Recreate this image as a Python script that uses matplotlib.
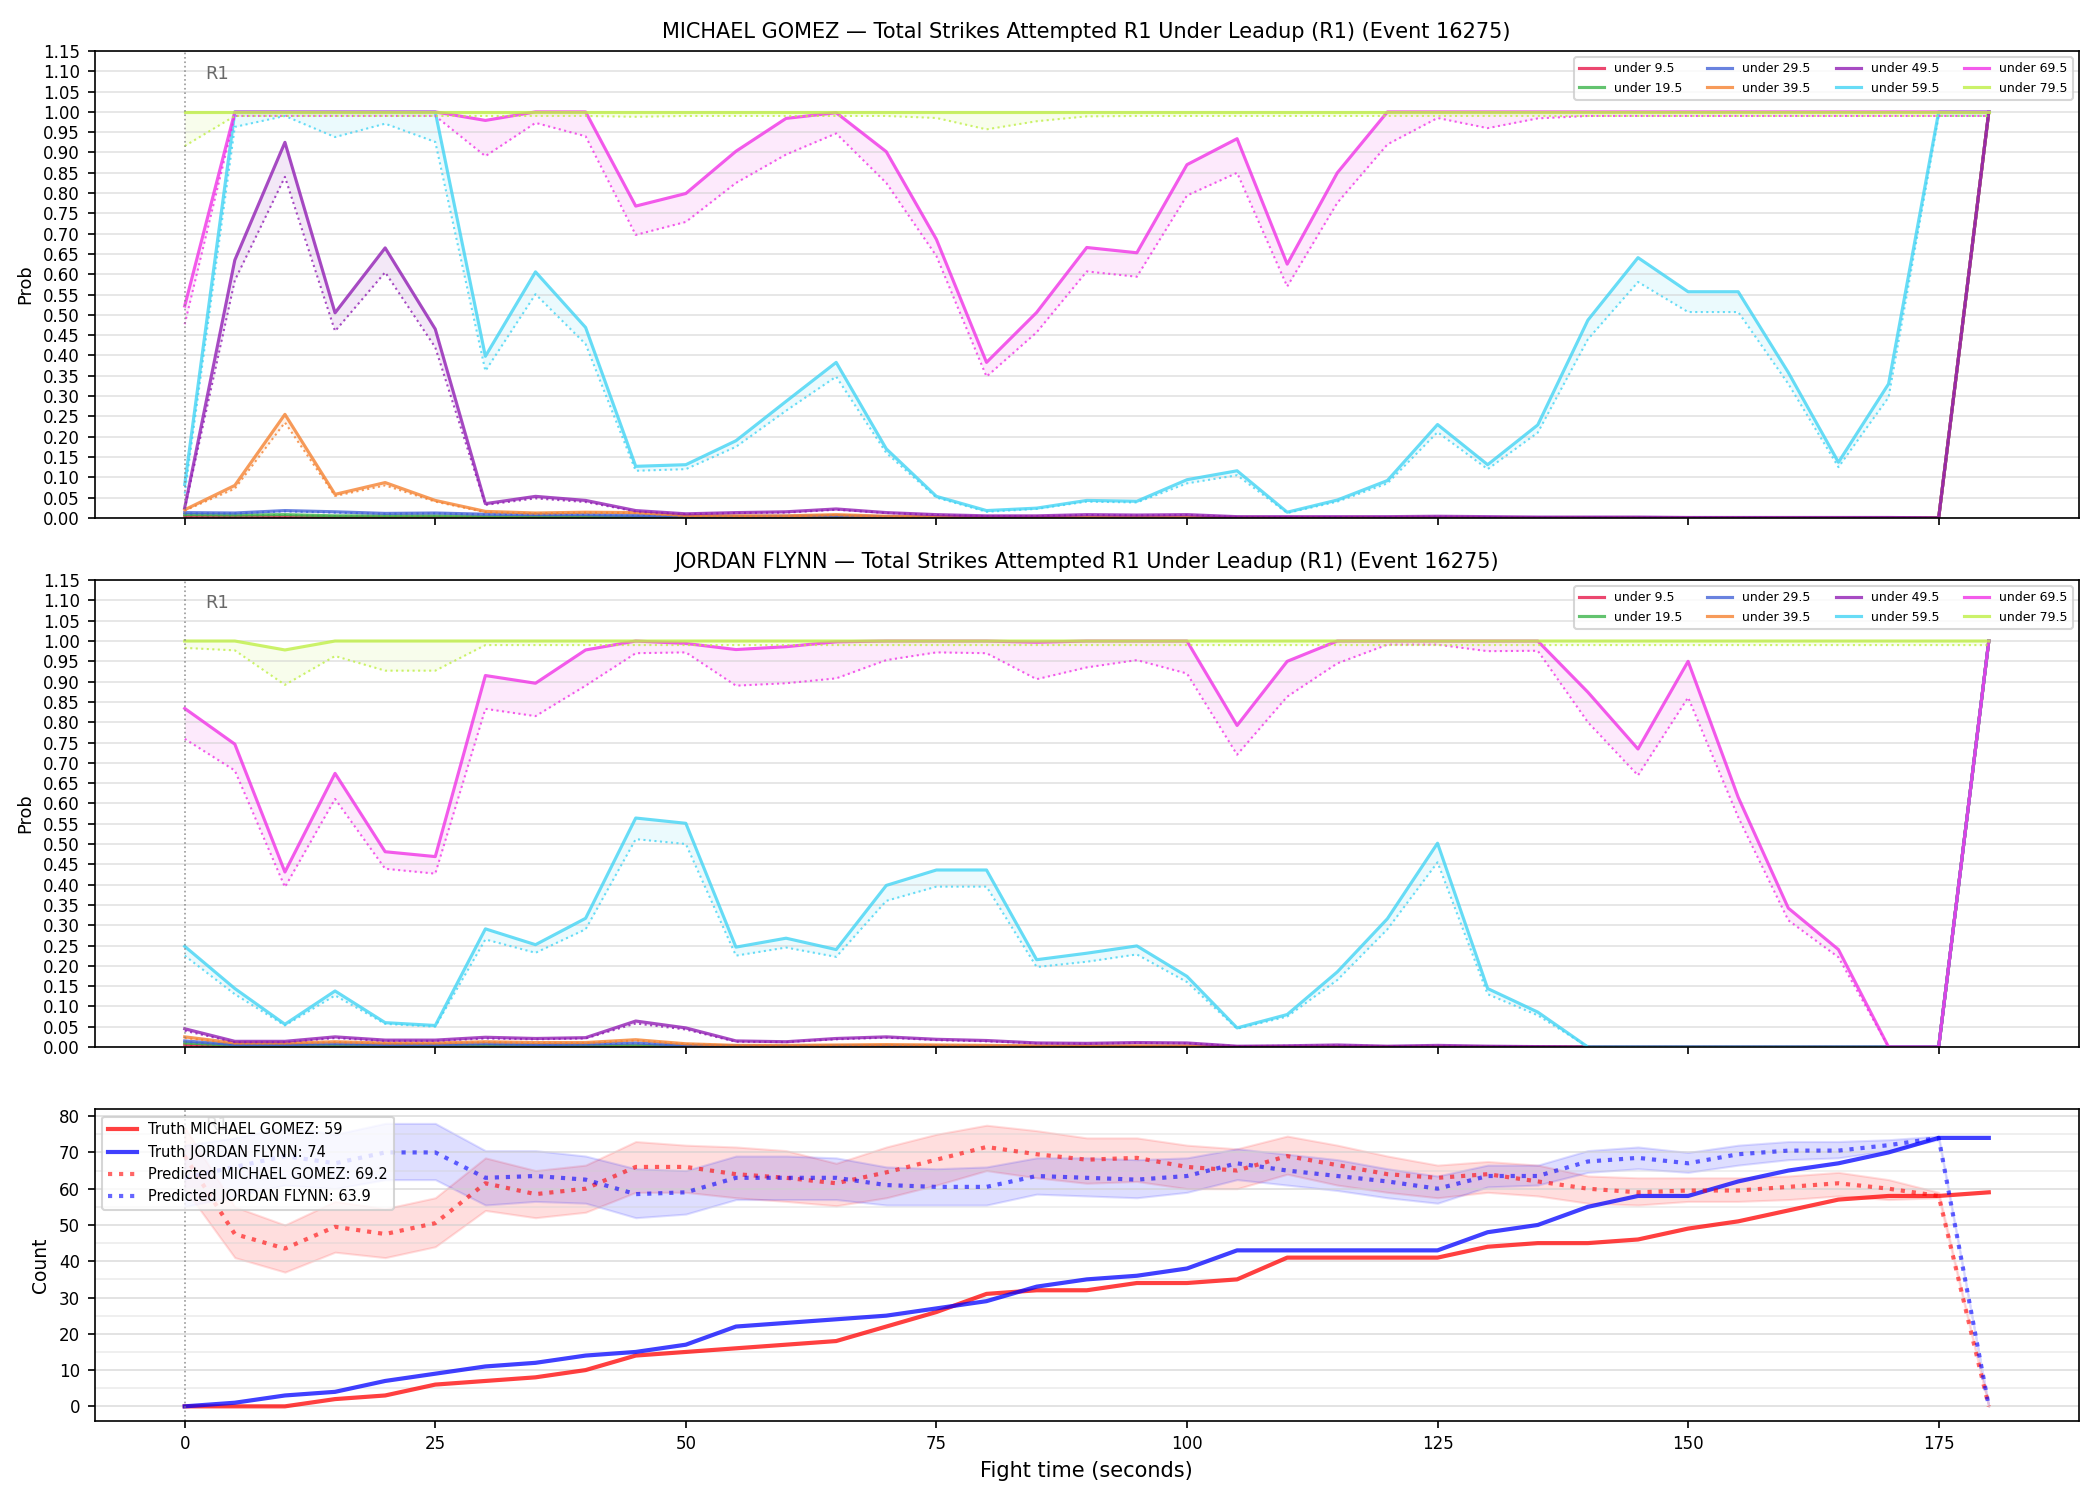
import matplotlib
matplotlib.use("Agg")
import matplotlib.pyplot as plt
import matplotlib.transforms as mtransforms
from matplotlib.ticker import MultipleLocator

# ---- data -------------------------------------------------------------
event_id = 16275
fighter_a = "MICHAEL GOMEZ"
fighter_b = "JORDAN FLYNN"

times = [0, 5, 10, 15, 20, 25, 30, 35, 40, 45, 50, 55, 60, 65, 70, 75, 80, 85, 90,
         95, 100, 105, 110, 115, 120, 125, 130, 135, 140, 145, 150, 155, 160, 165,
         170, 175, 180]

lines_labels = ["under 9.5", "under 19.5", "under 29.5", "under 39.5",
                "under 49.5", "under 59.5", "under 69.5", "under 79.5"]
line_colors = ["#e6194b", "#3cb44b", "#4363d8", "#f58231",
               "#911eb4", "#42d4f4", "#f032e6", "#bfef45"]

# MICHAEL GOMEZ: solid = live prob, _lo = dotted lower curve
gomez_u9 = [0.004, 0.003, 0.003, 0.002, 0.002, 0.002, 0.001, 0.001, 0.001, 0.001, 0.001, 0.001, 0.001,
            0.001, 0.001, 0.0, 0.0, 0.0, 0.0, 0.0, 0.0, 0.0, 0.0, 0.0, 0.0, 0.0, 0.0, 0.0, 0.0, 0.0,
            0.0, 0.0, 0.0, 0.0, 0.0, 0.0, 1.0]
gomez_u9_lo = [0.003, 0.002, 0.002, 0.001, 0.001, 0.001, 0.001, 0.0, 0.0, 0.0, 0.0, 0.0, 0.0,
               0.0, 0.0, 0.0, 0.0, 0.0, 0.0, 0.0, 0.0, 0.0, 0.0, 0.0, 0.0, 0.0, 0.0, 0.0, 0.0, 0.0,
               0.0, 0.0, 0.0, 0.0, 0.0, 0.0, 1.0]
gomez_u19 = [0.008, 0.007, 0.008, 0.005, 0.005, 0.005, 0.003, 0.003, 0.003, 0.002, 0.002, 0.002, 0.002,
             0.002, 0.001, 0.001, 0.001, 0.0, 0.0, 0.0, 0.0, 0.0, 0.0, 0.0, 0.0, 0.0, 0.0, 0.0, 0.0, 0.0,
             0.0, 0.0, 0.0, 0.0, 0.0, 0.0, 1.0]
gomez_u19_lo = [0.007, 0.006, 0.007, 0.004, 0.004, 0.004, 0.002, 0.002, 0.002, 0.002, 0.001, 0.001, 0.001,
                0.001, 0.001, 0.0, 0.0, 0.0, 0.0, 0.0, 0.0, 0.0, 0.0, 0.0, 0.0, 0.0, 0.0, 0.0, 0.0, 0.0,
                0.0, 0.0, 0.0, 0.0, 0.0, 0.0, 1.0]
gomez_u29 = [0.013, 0.012, 0.018, 0.015, 0.011, 0.012, 0.009, 0.008, 0.008, 0.006, 0.004, 0.004, 0.004,
             0.005, 0.003, 0.002, 0.002, 0.001, 0.001, 0.001, 0.001, 0.001, 0.0, 0.0, 0.0, 0.0, 0.0, 0.0,
             0.0, 0.0, 0.0, 0.0, 0.0, 0.0, 0.0, 0.0, 1.0]
gomez_u29_lo = [0.011, 0.011, 0.016, 0.013, 0.01, 0.011, 0.008, 0.007, 0.007, 0.005, 0.003, 0.003, 0.003,
                0.004, 0.002, 0.002, 0.001, 0.001, 0.001, 0.001, 0.001, 0.0, 0.0, 0.0, 0.0, 0.0, 0.0, 0.0,
                0.0, 0.0, 0.0, 0.0, 0.0, 0.0, 0.0, 0.0, 1.0]
gomez_u39 = [0.02, 0.08, 0.255, 0.058, 0.087, 0.043, 0.016, 0.012, 0.014, 0.013, 0.006, 0.005, 0.005,
             0.008, 0.004, 0.003, 0.002, 0.002, 0.002, 0.002, 0.002, 0.001, 0.001, 0.001, 0.001, 0.001,
             0.0, 0.0, 0.0, 0.0, 0.0, 0.0, 0.0, 0.0, 0.0, 0.0, 1.0]
gomez_u39_lo = [0.018, 0.072, 0.235, 0.054, 0.08, 0.04, 0.014, 0.011, 0.013, 0.012, 0.005, 0.004, 0.004,
                0.007, 0.003, 0.002, 0.002, 0.002, 0.001, 0.001, 0.001, 0.001, 0.001, 0.0, 0.0, 0.0,
                0.0, 0.0, 0.0, 0.0, 0.0, 0.0, 0.0, 0.0, 0.0, 0.0, 1.0]
gomez_u49 = [0.025, 0.635, 0.925, 0.505, 0.665, 0.465, 0.035, 0.053, 0.043, 0.018, 0.01, 0.013, 0.015,
             0.022, 0.013, 0.008, 0.005, 0.005, 0.008, 0.007, 0.008, 0.003, 0.003, 0.003, 0.003, 0.004,
             0.003, 0.002, 0.002, 0.002, 0.001, 0.001, 0.001, 0.001, 0.001, 0.0, 1.0]
gomez_u49_lo = [0.022, 0.585, 0.84, 0.46, 0.605, 0.42, 0.032, 0.048, 0.039, 0.016, 0.009, 0.012, 0.013,
                0.02, 0.012, 0.007, 0.004, 0.004, 0.007, 0.006, 0.007, 0.002, 0.002, 0.002, 0.002, 0.003,
                0.002, 0.001, 0.001, 0.001, 0.001, 0.001, 0.0, 0.0, 0.0, 0.0, 1.0]
gomez_u59 = [0.082, 1.0, 1.0, 1.0, 1.0, 1.0, 0.398, 0.606, 0.469, 0.127, 0.131, 0.19, 0.287, 0.383,
             0.17, 0.053, 0.018, 0.024, 0.043, 0.041, 0.094, 0.116, 0.014, 0.044, 0.092, 0.23, 0.131,
             0.229, 0.487, 0.641, 0.557, 0.557, 0.358, 0.137, 0.33, 1.0, 1.0]
gomez_u59_lo = [0.06, 0.963, 0.99, 0.938, 0.971, 0.926, 0.362, 0.551, 0.428, 0.116, 0.12, 0.175, 0.264,
                0.348, 0.16, 0.05, 0.015, 0.022, 0.04, 0.038, 0.085, 0.105, 0.012, 0.04, 0.085, 0.211,
                0.12, 0.21, 0.44, 0.581, 0.507, 0.507, 0.33, 0.125, 0.297, 0.99, 0.99]
gomez_u69 = [0.522, 1.0, 1.0, 1.0, 1.0, 1.0, 0.979, 1.0, 1.0, 0.768, 0.799, 0.903, 0.984, 0.998, 0.902,
             0.686, 0.383, 0.506, 0.666, 0.653, 0.87, 0.934, 0.625, 0.85, 1.0, 1.0, 1.0, 1.0, 1.0, 1.0,
             1.0, 1.0, 1.0, 1.0, 1.0, 1.0, 1.0]
gomez_u69_lo = [0.477, 0.99, 0.99, 0.99, 0.99, 0.99, 0.891, 0.973, 0.94, 0.697, 0.729, 0.825, 0.895,
                0.947, 0.825, 0.645, 0.348, 0.457, 0.607, 0.594, 0.794, 0.85, 0.57, 0.776, 0.92, 0.985,
                0.96, 0.984, 0.99, 0.99, 0.99, 0.99, 0.99, 0.99, 0.99, 0.99, 0.99]
gomez_u79 = [1.0, 1.0, 1.0, 1.0, 1.0, 1.0, 1.0, 1.0, 1.0, 1.0, 1.0, 1.0, 1.0, 1.0, 1.0, 1.0, 1.0, 1.0,
             1.0, 1.0, 1.0, 1.0, 1.0, 1.0, 1.0, 1.0, 1.0, 1.0, 1.0, 1.0, 1.0, 1.0, 1.0, 1.0, 1.0, 1.0, 1.0]
gomez_u79_lo = [0.916, 0.99, 0.99, 0.99, 0.99, 0.99, 0.99, 0.99, 0.99, 0.988, 0.99, 0.99, 0.99, 0.99,
                0.99, 0.985, 0.957, 0.977, 0.989, 0.99, 0.99, 0.99, 0.99, 0.99, 0.99, 0.99, 0.99, 0.99,
                0.99, 0.99, 0.99, 0.99, 0.99, 0.99, 0.99, 0.99, 0.99]

# JORDAN FLYNN
flynn_u9 = [0.005, 0.002, 0.002, 0.002, 0.002, 0.002, 0.002, 0.002, 0.002, 0.002, 0.001, 0.001, 0.001,
            0.001, 0.001, 0.001, 0.0, 0.0, 0.0, 0.0, 0.0, 0.0, 0.0, 0.0, 0.0, 0.0, 0.0, 0.0, 0.0, 0.0,
            0.0, 0.0, 0.0, 0.0, 0.0, 0.0, 1.0]
flynn_u9_lo = [0.004, 0.002, 0.001, 0.001, 0.001, 0.001, 0.001, 0.001, 0.001, 0.001, 0.001, 0.0, 0.0,
               0.0, 0.0, 0.0, 0.0, 0.0, 0.0, 0.0, 0.0, 0.0, 0.0, 0.0, 0.0, 0.0, 0.0, 0.0, 0.0, 0.0,
               0.0, 0.0, 0.0, 0.0, 0.0, 0.0, 1.0]
flynn_u19 = [0.01, 0.004, 0.004, 0.004, 0.003, 0.003, 0.004, 0.003, 0.003, 0.004, 0.002, 0.001, 0.001,
             0.001, 0.001, 0.001, 0.001, 0.0, 0.0, 0.0, 0.0, 0.0, 0.0, 0.0, 0.0, 0.0, 0.0, 0.0, 0.0, 0.0,
             0.0, 0.0, 0.0, 0.0, 0.0, 0.0, 1.0]
flynn_u19_lo = [0.009, 0.003, 0.003, 0.003, 0.003, 0.003, 0.003, 0.003, 0.003, 0.003, 0.002, 0.001, 0.001,
                0.001, 0.001, 0.001, 0.0, 0.0, 0.0, 0.0, 0.0, 0.0, 0.0, 0.0, 0.0, 0.0, 0.0, 0.0, 0.0, 0.0,
                0.0, 0.0, 0.0, 0.0, 0.0, 0.0, 1.0]
flynn_u29 = [0.015, 0.006, 0.006, 0.008, 0.006, 0.006, 0.008, 0.006, 0.007, 0.01, 0.004, 0.003, 0.002,
             0.003, 0.003, 0.002, 0.002, 0.001, 0.001, 0.001, 0.001, 0.0, 0.0, 0.0, 0.0, 0.0, 0.0, 0.0,
             0.0, 0.0, 0.0, 0.0, 0.0, 0.0, 0.0, 0.0, 1.0]
flynn_u29_lo = [0.013, 0.005, 0.005, 0.007, 0.005, 0.005, 0.007, 0.005, 0.006, 0.009, 0.003, 0.002, 0.002,
                0.002, 0.002, 0.002, 0.001, 0.001, 0.001, 0.001, 0.001, 0.0, 0.0, 0.0, 0.0, 0.0, 0.0, 0.0,
                0.0, 0.0, 0.0, 0.0, 0.0, 0.0, 0.0, 0.0, 1.0]
flynn_u39 = [0.025, 0.01, 0.01, 0.013, 0.01, 0.01, 0.013, 0.011, 0.011, 0.018, 0.008, 0.004, 0.004,
             0.005, 0.006, 0.005, 0.004, 0.003, 0.003, 0.003, 0.003, 0.001, 0.001, 0.001, 0.001, 0.001,
             0.0, 0.0, 0.0, 0.0, 0.0, 0.0, 0.0, 0.0, 0.0, 0.0, 1.0]
flynn_u39_lo = [0.022, 0.009, 0.009, 0.012, 0.009, 0.009, 0.012, 0.01, 0.01, 0.016, 0.007, 0.004, 0.003,
                0.004, 0.005, 0.004, 0.003, 0.003, 0.002, 0.002, 0.002, 0.001, 0.001, 0.001, 0.001, 0.0,
                0.0, 0.0, 0.0, 0.0, 0.0, 0.0, 0.0, 0.0, 0.0, 0.0, 1.0]
flynn_u49 = [0.045, 0.014, 0.014, 0.025, 0.017, 0.017, 0.024, 0.021, 0.023, 0.064, 0.047, 0.015, 0.013,
             0.021, 0.025, 0.019, 0.016, 0.01, 0.009, 0.011, 0.01, 0.002, 0.003, 0.005, 0.002, 0.004,
             0.002, 0.001, 0.0, 0.0, 0.0, 0.0, 0.0, 0.0, 0.0, 0.0, 1.0]
flynn_u49_lo = [0.04, 0.012, 0.012, 0.022, 0.015, 0.015, 0.021, 0.019, 0.021, 0.058, 0.043, 0.013, 0.012,
                0.019, 0.023, 0.017, 0.014, 0.009, 0.008, 0.01, 0.009, 0.002, 0.003, 0.004, 0.002, 0.003,
                0.002, 0.001, 0.0, 0.0, 0.0, 0.0, 0.0, 0.0, 0.0, 0.0, 1.0]
flynn_u59 = [0.248, 0.144, 0.056, 0.138, 0.06, 0.053, 0.291, 0.252, 0.317, 0.564, 0.551, 0.246, 0.268,
             0.24, 0.398, 0.436, 0.436, 0.215, 0.231, 0.249, 0.174, 0.047, 0.08, 0.185, 0.316, 0.502,
             0.144, 0.086, 0.0, 0.0, 0.0, 0.0, 0.0, 0.0, 0.0, 0.0, 1.0]
flynn_u59_lo = [0.225, 0.13, 0.053, 0.127, 0.057, 0.05, 0.265, 0.232, 0.29, 0.512, 0.5, 0.225, 0.245,
                0.222, 0.36, 0.395, 0.395, 0.197, 0.21, 0.228, 0.16, 0.045, 0.075, 0.165, 0.29, 0.455,
                0.13, 0.078, 0.0, 0.0, 0.0, 0.0, 0.0, 0.0, 0.0, 0.0, 1.0]
flynn_u69 = [0.834, 0.746, 0.431, 0.674, 0.481, 0.469, 0.915, 0.896, 0.978, 1.0, 0.994, 0.979, 0.986,
             0.998, 1.0, 1.0, 1.0, 0.997, 1.0, 1.0, 1.0, 0.792, 0.95, 1.0, 1.0, 1.0, 1.0, 1.0, 0.874,
             0.734, 0.95, 0.615, 0.342, 0.24, 0.0, 0.0, 1.0]
flynn_u69_lo = [0.759, 0.681, 0.394, 0.611, 0.439, 0.427, 0.833, 0.815, 0.89, 0.97, 0.972, 0.89, 0.896,
                0.908, 0.953, 0.972, 0.97, 0.906, 0.935, 0.953, 0.92, 0.72, 0.863, 0.945, 0.991, 0.991,
                0.975, 0.976, 0.8, 0.669, 0.861, 0.566, 0.312, 0.221, 0.0, 0.0, 1.0]
flynn_u79 = [1.0, 1.0, 0.978, 1.0, 1.0, 1.0, 1.0, 1.0, 1.0, 1.0, 1.0, 1.0, 1.0, 1.0, 1.0, 1.0, 1.0, 1.0,
             1.0, 1.0, 1.0, 1.0, 1.0, 1.0, 1.0, 1.0, 1.0, 1.0, 1.0, 1.0, 1.0, 1.0, 1.0, 1.0, 1.0, 1.0, 1.0]
flynn_u79_lo = [0.983, 0.977, 0.892, 0.963, 0.927, 0.927, 0.99, 0.99, 0.99, 0.99, 0.99, 0.99, 0.99, 0.99,
                0.99, 0.99, 0.99, 0.99, 0.99, 0.99, 0.99, 0.99, 0.99, 0.99, 0.99, 0.99, 0.99, 0.99, 0.99,
                0.99, 0.99, 0.99, 0.99, 0.99, 0.99, 0.99, 0.99]

# cumulative strike counts
gomez_truth = [0, 0, 0, 2, 3, 6, 7, 8, 10, 14, 15, 16, 17, 18, 22, 26, 31, 32, 32, 34, 34, 35, 41, 41,
               41, 41, 44, 45, 45, 46, 49, 51, 54, 57, 58, 58, 59]
flynn_truth = [0, 1, 3, 4, 7, 9, 11, 12, 14, 15, 17, 22, 23, 24, 25, 27, 29, 33, 35, 36, 38, 43, 43, 43,
               43, 43, 48, 50, 55, 58, 58, 62, 65, 67, 70, 74, 74]
gomez_pred = [69, 47.5, 43.5, 49.5, 47.5, 50.5, 61.5, 58.5, 60, 66, 66, 64, 63, 61.5, 64.5, 68, 71.5,
              69.5, 68, 68.5, 66, 65, 69, 66.5, 64, 63, 64, 62, 60, 59, 59.5, 59.5, 60.5, 61.5, 60, 58, 0]
gomez_pred_lo = [60, 41, 37, 42.5, 41, 44, 54, 52, 53.5, 59, 59, 57.5, 56.5, 55.3, 57.5, 61, 65, 63,
                 61.5, 62, 60, 60, 64, 61, 59, 57.5, 59, 58, 56, 55.5, 56.5, 56.5, 57, 58, 57, 57.5, 0]
gomez_pred_hi = [77, 55, 50, 56.5, 54.5, 57.5, 68.5, 65, 66.5, 73, 72, 71.5, 70.5, 67, 71.5, 75, 77.5,
                 76, 74, 74, 72, 71, 74.5, 72, 69, 66.5, 67.5, 66.5, 63.5, 63, 63, 63, 63.5, 64.5,
                 62.5, 59, 0]
flynn_pred = [63, 66, 69, 67, 70, 70, 63, 63.5, 62.5, 58.5, 59, 63, 63, 63, 61, 60.5, 60.5, 63.5, 63,
              62.5, 63.5, 67, 65, 63.5, 62, 60, 63.5, 63.5, 67.5, 68.5, 67, 69.5, 70.5, 70.5, 72, 74, 0]
flynn_pred_lo = [55, 58, 61, 60, 62.5, 62.5, 55.5, 56.5, 56, 52, 53, 57, 57, 57, 55.5, 55.5, 55.5, 58.5,
                 58, 57.5, 59, 62.5, 61, 59.5, 57.5, 56, 60.5, 61, 64.5, 65.5, 64.5, 66.5, 68, 68.5,
                 70.5, 73.5, 0]
flynn_pred_hi = [72, 74, 77, 75, 78, 78, 70.5, 70.5, 69, 65.5, 65, 69, 69, 68.5, 66, 65.5, 66, 68.5,
                 68.5, 68, 68.5, 71, 69.5, 68, 65.5, 63.5, 66.5, 66.5, 70.5, 71.5, 70, 72, 73, 73,
                 73.5, 74.5, 0]

gomez_final_pred = 69.2
flynn_final_pred = 63.9

gomez_lines = [(gomez_u9, gomez_u9_lo), (gomez_u19, gomez_u19_lo), (gomez_u29, gomez_u29_lo),
               (gomez_u39, gomez_u39_lo), (gomez_u49, gomez_u49_lo), (gomez_u59, gomez_u59_lo),
               (gomez_u69, gomez_u69_lo), (gomez_u79, gomez_u79_lo)]
flynn_lines = [(flynn_u9, flynn_u9_lo), (flynn_u19, flynn_u19_lo), (flynn_u29, flynn_u29_lo),
               (flynn_u39, flynn_u39_lo), (flynn_u49, flynn_u49_lo), (flynn_u59, flynn_u59_lo),
               (flynn_u69, flynn_u69_lo), (flynn_u79, flynn_u79_lo)]


def mark_round(ax):
    ax.axvline(0, color="gray", linestyle=":", linewidth=0.8, alpha=0.8)
    trans = mtransforms.blended_transform_factory(ax.transData, ax.transAxes)
    ax.text(2, 0.95, "R1", transform=trans, color="dimgray", fontsize=8.5, va="center")


def prob_panel(ax, name, series):
    for (p, lo), lab, col in zip(series, lines_labels, line_colors):
        ax.plot(times, p, color=col, linewidth=1.5, alpha=0.8, label=lab)
        ax.plot(times, lo, color=col, linewidth=1.0, linestyle=":", alpha=0.8)
        ax.fill_between(times, lo, p, color=col, alpha=0.1, linewidth=0)
    ax.set_ylim(0, 1.15)
    ax.yaxis.set_major_locator(MultipleLocator(0.05))
    ax.yaxis.set_major_formatter(matplotlib.ticker.FormatStrFormatter("%.2f"))
    ax.grid(axis="y", color="#d0d0d0", linewidth=0.8, alpha=0.6)
    ax.set_ylabel("Prob", fontsize=8.5)
    ax.set_title(f"{name} \u2014 Total Strikes Attempted R1 Under Leadup (R1) (Event {event_id})",
                 fontsize=10)
    ax.legend(loc="upper right", ncol=4, fontsize=6)
    mark_round(ax)


fig, axes = plt.subplots(3, 1, figsize=(14, 10), dpi=150, sharex=True,
                         gridspec_kw={"height_ratios": [3, 3, 2], "hspace": 0.15})
fig.subplots_adjust(left=0.045, right=0.99, top=0.966, bottom=0.053)

prob_panel(axes[0], fighter_a, gomez_lines)
prob_panel(axes[1], fighter_b, flynn_lines)

ax = axes[2]
ax.plot(times, gomez_truth, color="red", linewidth=2, alpha=0.75,
        label=f"Truth {fighter_a}: {gomez_truth[-1]}")
ax.plot(times, flynn_truth, color="blue", linewidth=2, alpha=0.75,
        label=f"Truth {fighter_b}: {flynn_truth[-1]}")
ax.plot(times, gomez_pred, color="red", linewidth=2, linestyle=":", alpha=0.6,
        label=f"Predicted {fighter_a}: {gomez_final_pred}")
ax.fill_between(times, gomez_pred_lo, gomez_pred_hi, color="red", alpha=0.13)
ax.plot(times, flynn_pred, color="blue", linewidth=2, linestyle=":", alpha=0.6,
        label=f"Predicted {fighter_b}: {flynn_final_pred}")
ax.fill_between(times, flynn_pred_lo, flynn_pred_hi, color="blue", alpha=0.13)
ax.yaxis.set_major_locator(MultipleLocator(10))
ax.yaxis.set_minor_locator(MultipleLocator(5))
ax.tick_params(axis="y", which="minor", length=0)
ax.grid(axis="y", which="major", color="#d0d0d0", linewidth=0.8, alpha=0.7)
ax.grid(axis="y", which="minor", color="#d0d0d0", linewidth=0.8, alpha=0.4)
ax.set_ylabel("Count", fontsize=9)
ax.set_xlabel("Fight time (seconds)", fontsize=10)
ax.xaxis.set_major_locator(MultipleLocator(25))
ax.legend(loc="upper left", fontsize=7)
mark_round(ax)

for a in axes:
    a.tick_params(labelsize=8)

fig.savefig("out.png", dpi=150)
